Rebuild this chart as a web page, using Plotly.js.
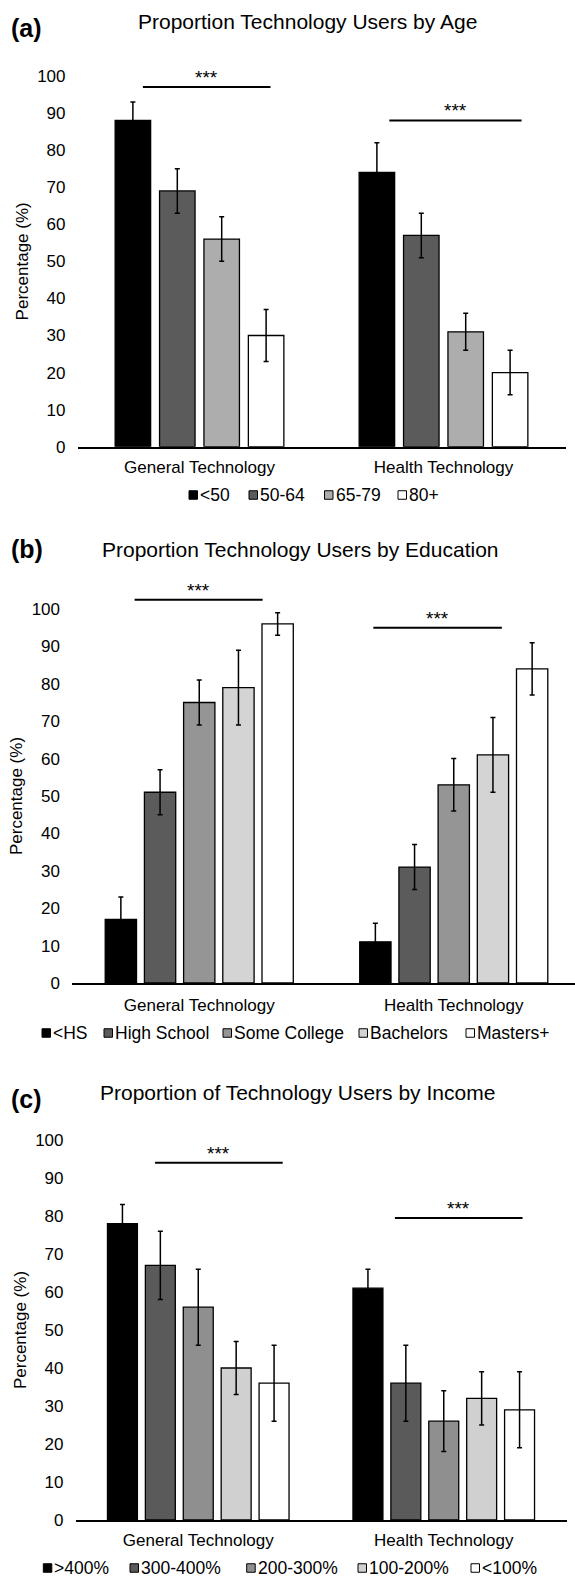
<!DOCTYPE html>
<html><head><meta charset="utf-8">
<script src="https://cdn.plot.ly/plotly-3.0.1.min.js"></script>
<style>html,body{margin:0;padding:0;background:#fff}#chart{width:575px;height:1578px}</style>
</head><body><div id="chart"></div>
<script>
// ---------- DATA ----------
const categories = ['General Technology', 'Health Technology'];
const yTicks = [0, 10, 20, 30, 40, 50, 60, 70, 80, 90, 100];

const ageGroups = ['<50', '50-64', '65-79', '80+'];
const ageGeneral = [88, 69, 56, 30];
const ageGeneralErr = [5, 6, 6, 7];
const ageHealth = [74, 57, 31, 20];
const ageHealthErr = [8, 6, 5, 6];
const ageSigY = [97, 88];

const eduGroups = ['<HS', 'High School', 'Some College', 'Bachelors', 'Masters+'];
const eduGeneral = [17, 51, 75, 79, 96];
const eduGeneralErr = [6, 6, 6, 10, 3];
const eduHealth = [11, 31, 53, 61, 84];
const eduHealthErr = [5, 6, 7, 10, 7];
const eduSigY = [102.5, 95];

const incGroups = ['>400%', '300-400%', '200-300%', '100-200%', '<100%'];
const incGeneral = [78, 67, 56, 40, 36];
const incGeneralErr = [5, 9, 10, 7, 10];
const incHealth = [61, 36, 26, 32, 29];
const incHealthErr = [5, 10, 8, 7, 10];
const incSigY = [94, 79.5];

const sigLabel = '***';
const yTitle = 'Percentage (%)';
const yMax = 100;

// ---------- LAYOUT / STYLE ----------
const W = 575, H = 1578;
const FONT = '"Liberation Sans", Arial, Helvetica, sans-serif';

const panels = [
  { k: '', label: '(a)', title: 'Proportion Technology Users by Age',
    groups: ageGroups, gen: ageGeneral, genErr: ageGeneralErr, hea: ageHealth, heaErr: ageHealthErr, sigY: ageSigY,
    colors: ['#000000', '#5b5b5b', '#adadad', '#ffffff'],
    xpx: [77.5, 565.5], xrange: [-0.5, 1.5], y0px: 446.7, ppu: 3.707, xStand: 4,
    pitch: 0.182, bw: 0.1455, sig: [[-0.232, 0.291], [0.778, 1.32]],
    titleX: 308, titleY: 22, labelY: 28, legX: [189, 249, 324.5, 398], legY: 495 },
  { k: '2', label: '(b)', title: 'Proportion Technology Users by Education',
    groups: eduGroups, gen: eduGeneral, genErr: eduGeneralErr, hea: eduHealth, heaErr: eduHealthErr, sigY: eduSigY,
    colors: ['#000000', '#5b5b5b', '#959595', '#d4d4d4', '#ffffff'],
    xpx: [72, 575], xrange: [-0.5, 1.4764], y0px: 983, ppu: 3.74, xStand: 6,
    pitch: 0.154, bw: 0.123, sig: [[-0.254, 0.249], [0.684, 1.189]],
    titleX: 300, titleY: 549, labelY: 549, legX: [42, 104, 223, 359, 466], legY: 1033 },
  { k: '3', label: '(c)', title: 'Proportion of Technology Users by Income',
    groups: incGroups, gen: incGeneral, genErr: incGeneralErr, hea: incHealth, heaErr: incHealthErr, sigY: incSigY,
    colors: ['#000000', '#5a5a5a', '#8f8f8f', '#d0d0d0', '#ffffff'],
    xpx: [75.5, 566.5], xrange: [-0.5, 1.5], y0px: 1520, ppu: 3.8, xStand: 4,
    pitch: 0.1544, bw: 0.122, sig: [[-0.176, 0.344], [0.801, 1.321]],
    titleX: 297, titleY: 1092, labelY: 1099, legX: [43.3, 130, 246.7, 358, 471], legY: 1568 }
];

const traces = [];
const shapes = [];
const annotations = [];
const layout = {
  width: W, height: H,
  margin: { l: 0, r: 0, t: 0, b: 0 },
  paper_bgcolor: '#ffffff', plot_bgcolor: '#ffffff',
  font: { family: FONT, size: 17, color: '#000000' },
  showlegend: false,
  barmode: 'group'
};

panels.forEach(p => {
  const n = p.groups.length;
  const xa = 'x' + p.k, ya = 'y' + p.k;
  p.groups.forEach((g, i) => {
    traces.push({
      type: 'bar', name: g, x: categories, y: [p.gen[i], p.hea[i]],
      xaxis: xa, yaxis: ya,
      width: p.bw, offset: (i - (n - 1) / 2) * p.pitch - p.bw / 2,
      marker: { color: p.colors[i], line: { color: '#000000', width: 1.3 } },
      error_y: { type: 'data', array: [p.genErr[i], p.heaErr[i]], visible: true, color: '#000000', thickness: 1.5, width: 2.5 },
      hoverinfo: 'name+y', showlegend: false
    });
  });
  const yBottom = 1 - p.y0px / H;
  const yTop = 1 - (p.y0px - yMax * p.ppu) / H;
  layout['xaxis' + p.k] = {
    domain: [p.xpx[0] / W, p.xpx[1] / W], range: p.xrange, type: 'category', anchor: ya,
    showline: true, linecolor: '#000000', linewidth: 1.6, ticks: '', showgrid: false, zeroline: false,
    tickfont: { size: 17 }, ticklabelstandoff: p.xStand, fixedrange: true
  };
  layout['yaxis' + p.k] = {
    domain: [yBottom, yTop], range: [0, yMax], anchor: xa,
    tickvals: yTicks, ticktext: yTicks.map(String),
    showline: false, ticks: '', showgrid: false, zeroline: false,
    tickfont: { size: 17 }, ticklabelstandoff: 11, fixedrange: true,
    title: { text: yTitle, font: { size: 17 }, standoff: 4 }
  };
  // significance bars (y given in data units, placed via the axis domain so they may rise above 100)
  p.sig.forEach((s, j) => {
    const yd = p.sigY[j] / yMax;
    shapes.push({ type: 'line', xref: xa, yref: ya + ' domain', x0: s[0], x1: s[1], y0: yd, y1: yd,
      line: { color: '#000000', width: 2 } });
    annotations.push({ xref: xa, yref: ya + ' domain', x: (s[0] + s[1]) / 2, y: yd, yanchor: 'bottom', xanchor: 'center',
      text: sigLabel, showarrow: false, font: { size: 19 }, yshift: -3 });
  });
  // titles
  annotations.push({ xref: 'paper', yref: 'paper', x: p.titleX / W, y: 1 - p.titleY / H, xanchor: 'center', yanchor: 'middle',
    text: p.title, showarrow: false, font: { size: 21 } });
  annotations.push({ xref: 'paper', yref: 'paper', x: 9 / W, y: 1 - p.labelY / H, xanchor: 'left', yanchor: 'middle',
    text: '<b>' + p.label + '</b>', showarrow: false, font: { size: 25 } });
  // legend (square swatch + label)
  p.groups.forEach((g, i) => {
    const lx = p.legX[i], ly = p.legY, s = 8.5;
    shapes.push({ type: 'rect', xref: 'paper', yref: 'paper', x0: lx / W, x1: (lx + s) / W,
      y0: 1 - (ly + s / 2) / H, y1: 1 - (ly - s / 2) / H, fillcolor: p.colors[i], line: { color: '#000000', width: 1 } });
    annotations.push({ xref: 'paper', yref: 'paper', x: (lx + s + 1.5) / W, y: 1 - ly / H, xanchor: 'left', yanchor: 'middle',
      text: g.replace(/</g, '&lt;').replace(/>/g, '&gt;'), showarrow: false, font: { size: 17.5 }, borderpad: 0 });
  });
});

layout.shapes = shapes;
layout.annotations = annotations;

Plotly.newPlot('chart', traces, layout, { displayModeBar: false, responsive: false });
</script>
</body></html>
